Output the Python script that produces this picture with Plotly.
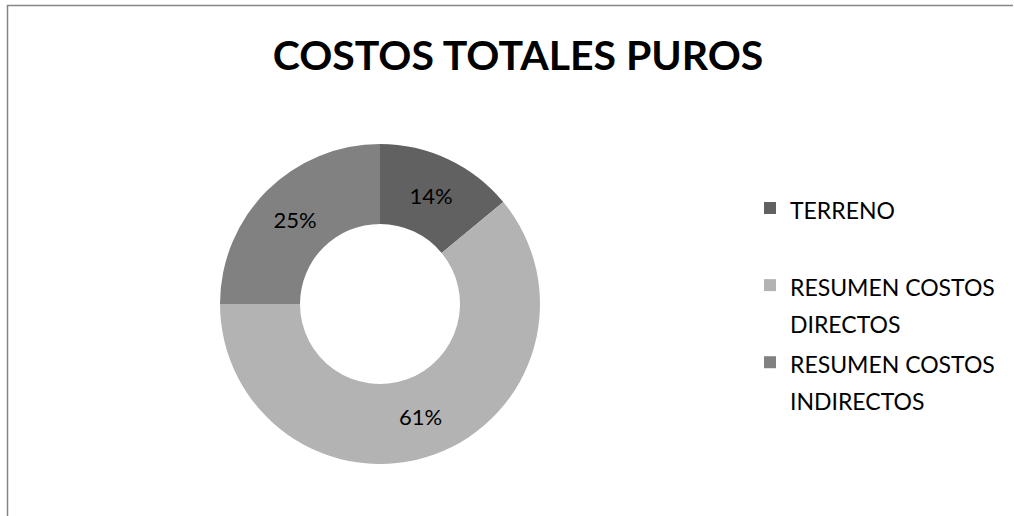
import plotly.graph_objects as go

categories = ["TERRENO<br> ", "RESUMEN COSTOS<br>DIRECTOS", "RESUMEN COSTOS<br>INDIRECTOS"]
values = [14, 61, 25]
colors = ["#616161", "#b3b3b3", "#818181"]
title_text = "COSTOS TOTALES PUROS"

W, H = 1014, 516
cx, cy, r = 380, 304, 160

legend_names = ['<span style="font-size:23px">%s</span>' % c for c in categories]

fig = go.Figure(go.Pie(
    labels=legend_names,
    values=values,
    hole=0.5,
    sort=False,
    direction="clockwise",
    rotation=0,
    marker=dict(colors=colors, line=dict(width=0)),
    textposition="inside",
    insidetextorientation="horizontal",
    texttemplate="%{value}%",
    textfont=dict(family="Lato, Carlito, Calibri, sans-serif", size=22, color="#000000"),
    hoverinfo="skip",
    domain=dict(x=[(cx - r) / W, (cx + r) / W], y=[(H - cy - r) / H, (H - cy + r) / H]),
))

fig.update_layout(
    width=W, height=H,
    margin=dict(l=0, r=0, t=0, b=0),
    paper_bgcolor="#ffffff",
    plot_bgcolor="#ffffff",
    font=dict(family="Lato, Carlito, Calibri, sans-serif", color="#000000"),
    title=dict(text="<b>%s</b>" % title_text, x=518 / W, xanchor="center",
               y=1 - 56 / H, yanchor="middle", yref="container",
               font=dict(size=41, family="Lato, Carlito, Calibri, sans-serif", color="#000000")),
    showlegend=True,
    legend=dict(x=750 / W, xanchor="left", y=1 - 183 / H, yanchor="top",
                valign="top", font=dict(size=28.5, color="#000000"),
                bgcolor="rgba(0,0,0,0)", traceorder="normal"),
    shapes=[
        dict(type="line", xref="paper", yref="paper", x0=7 / W, x1=1013 / W,
             y0=1 - 5.5 / H, y1=1 - 5.5 / H, line=dict(color="#868686", width=1.5)),
        dict(type="line", xref="paper", yref="paper", x0=7.5 / W, x1=7.5 / W,
             y0=1 - 5 / H, y1=0, line=dict(color="#868686", width=1.5)),
    ],
)

fig.write_html("out.html")
